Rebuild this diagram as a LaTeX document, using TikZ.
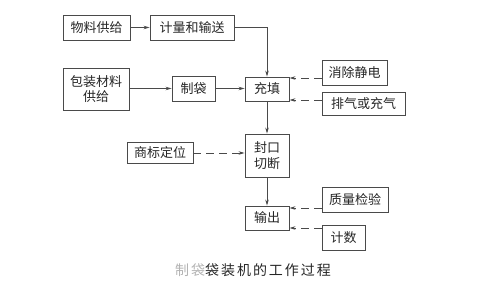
\documentclass[tikz,border=0pt]{standalone}
\usepackage{fontspec}
\setmainfont{Noto Sans CJK SC}
\newfontfamily\capfont[LetterSpace=14]{Noto Sans CJK SC}
\usetikzlibrary{arrows.meta}
\definecolor{ln}{HTML}{4A4A4A}
\tikzset{
  box/.style={draw=ln, line width=0.9pt, inner sep=0pt, align=center, font=\fontsize{13}{15.5}\selectfont, text=black!85},
  conn/.style={draw=ln, line width=0.8pt, -{Stealth[length=6pt,width=3.5pt]}},
  dconn/.style={conn, dash pattern=on 8pt off 5pt},
}
\begin{document}
\begin{tikzpicture}[x=1pt,y=-1pt]
\useasboundingbox (0,0) rectangle (502,288);
\node[box, minimum width=67pt, minimum height=25pt] (wl) at (96.5,27.5) {物料供给};
\node[box, minimum width=84pt, minimum height=25pt] (jl) at (192,27.5) {计量和输送};
\node[box, minimum width=66pt, minimum height=42pt] (bz) at (96,89) {包装材料\\供给};
\node[box, minimum width=43pt, minimum height=25pt] (zd) at (193.5,88.5) {制袋};
\node[box, minimum width=44pt, minimum height=24pt] (ct) at (267,89) {充填};
\node[box, minimum width=65pt, minimum height=25pt] (xc) at (354.5,72.5) {消除静电};
\node[box, minimum width=83pt, minimum height=23pt] (pq) at (363.5,103.5) {排气或充气};
\node[box, minimum width=44pt, minimum height=43pt] (fk) at (267,155.5) {封口\\切断};
\node[box, minimum width=66pt, minimum height=21pt] (sb) at (160,153) {商标定位};
\node[box, minimum width=44pt, minimum height=24pt] (sc) at (267,218) {输出};
\node[box, minimum width=66pt, minimum height=25pt] (zl) at (355,199.5) {质量检验};
\node[box, minimum width=43pt, minimum height=25pt] (js) at (343.5,237.5) {计数};
\node[font=\capfont\fontsize{14}{16}\selectfont, inner sep=0pt, text=black!85] (cap) at (253,270) {\textcolor{black!30}{制袋}袋装机的工作过程};

\draw[conn] (wl.east) -- (jl.west);
\draw[conn] (jl.east) -| (ct.north);
\draw[conn] (bz.east |- zd.west) -- (zd.west);
\draw[conn] (zd.east) -- (ct.west |- zd.east);
\draw[dconn] (xc.west |- 0,78) -- (ct.east |- 0,78);
\draw[dconn] (pq.west |- 0,100) -- (ct.east |- 0,100);
\draw[conn] (ct.south) -- (fk.north);
\draw[dconn] (sb.east) -- (fk.west |- sb.east);
\draw[conn] (fk.south) -- (sc.north);
\draw[dconn] (zl.west |- 0,208) -- (sc.east |- 0,208);
\draw[dconn] (js.west |- 0,228) -- (sc.east |- 0,228);
\end{tikzpicture}
\end{document}
